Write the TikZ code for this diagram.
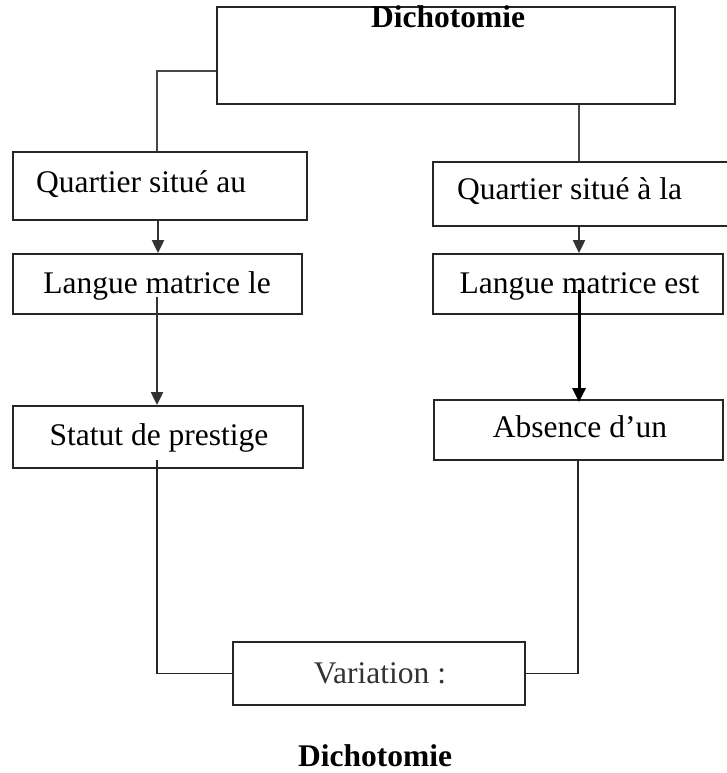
\documentclass[tikz,border=0pt]{standalone}
\usepackage{fontspec}
\setmainfont{Liberation Serif}
\usetikzlibrary{arrows.meta}
\begin{document}
\begin{tikzpicture}[x=1pt,y=-1pt,
  box/.style={draw=black!85, line width=1.8pt, inner sep=0pt},
  txt/.style={inner sep=0pt, font=\fontsize{31.5}{36}\selectfont},
  conn/.style={draw=black!72, line width=2.4pt},
  arr/.style={draw=black!80, line width=2pt, -{Triangle[length=13pt,width=12pt]}},
  thickarr/.style={draw=black, line width=3pt, -{Triangle[length=14pt,width=13pt]}},
  thinconn/.style={draw=black!85, line width=1.6pt},
]
\useasboundingbox (0,0) rectangle (727,773);

% boxes
\node[box, minimum width=458pt, minimum height=97pt] (top) at (446,55.5) {};
\node[box, minimum width=294pt, minimum height=68pt] (quartAu) at (160,186) {};
\node[box, minimum width=289pt, minimum height=60pt] (langLe) at (157.5,284) {};
\node[box, minimum width=290pt, minimum height=62pt] (statut) at (158,437) {};
\node[box, minimum width=312pt, minimum height=64pt] (quartLa) at (589,194) {};
\node[box, minimum width=290pt, minimum height=60pt] (langEst) at (578,284) {};
\node[box, minimum width=289pt, minimum height=60pt] (absence) at (578.5,430) {};
\node[box, minimum width=292pt, minimum height=63pt] (variation) at (379,673.5) {};

% texts
\node[txt, anchor=base] (tTop) at (448,28) {\bfseries Dichotomie};
\node[txt, anchor=base west] (tQAu) at (36,192) {Quartier situé au};
\node[txt, anchor=base west] (tQLa) at (457,199) {Quartier situé à la};
\node[txt, anchor=base] (tLLe) at (157,293) {Langue matrice le};
\node[txt, anchor=base] (tLEst) at (579.5,293) {Langue matrice est};
\node[txt, anchor=base] (tStat) at (159,445) {Statut de prestige};
\node[txt, anchor=base] (tAbs) at (580,437) {Absence d’un};
\node[txt, anchor=base, text=black!80] (tVar) at (380,683) {Variation :};
\node[txt, anchor=base] (caption) at (375,766) {\bfseries Dichotomie};

% connectors
\coordinate (tlj) at (157,71);
\coordinate (lx) at (158,0);
\coordinate (rx) at (579,0);
\coordinate (ls) at (157,297);
\coordinate (rs) at (579,290);
\coordinate (lb) at (157,460);
\coordinate (rb) at (578,0);

\draw[conn] (top.west |- tlj) -- (tlj) -- (tlj |- quartAu.north);
\draw[conn] (rx |- top.south) -- (rx |- quartLa.north);
\draw[arr] (lx |- quartAu.south) -- (lx |- langLe.north);
\draw[arr] (ls) -- (ls |- statut.north);
\draw[arr] (rx |- quartLa.south) -- (rx |- langEst.north);
\draw[thickarr] (rs) -- ([yshift=-3pt]rs |- absence.north);
\draw[thinconn] (lb) -- (lb |- variation.west) -- (variation.west);
\draw[thinconn] (rb |- absence.south) -- (rb |- variation.east) -- (variation.east);
\end{tikzpicture}
\end{document}
